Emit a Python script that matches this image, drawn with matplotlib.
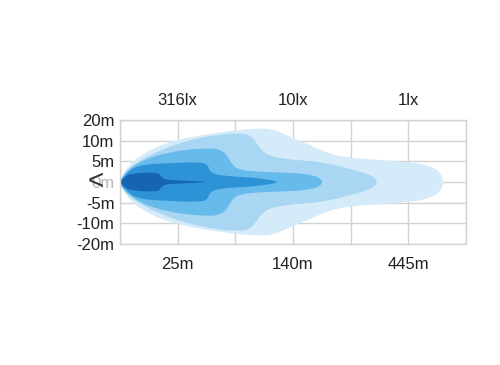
import numpy as np
import matplotlib
matplotlib.use("Agg")
import matplotlib.pyplot as plt
from matplotlib.path import Path
from matplotlib.patches import PathPatch

plt.rcParams['font.family'] = ['Liberation Sans', 'DejaVu Sans']

# grid is 6 columns x 6 rows; labels sit on the grid lines
y_labels = ["-20m", "-10m", "-5m", "0m", "5m", "10m", "20m"]
dist_labels = ["25m", "140m", "445m"]
lux_labels = ["316lx", "10lx", "1lx"]
label_cols = [1, 3, 5]

# upper half outline of each isolux zone (column units, row units); mirrored below
zone1_x = [0, 0.03, 0.14, 0.35, 0.78, 1.30, 1.91, 2.46, 2.69, 2.89, 3.07, 3.29, 3.64, 3.99, 4.51, 5.03, 5.38, 5.55, 5.62]
zone1_y = [0, 0.29, 0.78, 1.31, 1.89, 2.23, 2.48, 2.62, 2.52, 2.28, 2.04, 1.80, 1.36, 1.17, 1.07, 0.97, 0.78, 0.49, 0]
zone2_x = [0, 0.05, 0.26, 0.69, 1.21, 1.65, 2.08, 2.25, 2.36, 2.46, 2.64, 3.03, 3.52, 3.99, 4.25, 4.40, 4.47]
zone2_y = [0, 0.39, 0.92, 1.55, 2.04, 2.28, 2.38, 2.28, 1.94, 1.50, 1.21, 1.07, 0.97, 0.63, 0.44, 0.24, 0]
zone3_x = [0, 0.03, 0.31, 0.83, 1.47, 1.73, 1.86, 1.94, 2.08, 2.43, 3.03, 3.33, 3.47, 3.52]
zone3_y = [0, 0.29, 0.97, 1.46, 1.65, 1.60, 1.31, 0.83, 0.58, 0.49, 0.44, 0.34, 0.19, 0]
zone4_x = [0, 0.09, 0.31, 0.87, 1.40, 1.53, 1.56, 1.82, 2.17, 2.51, 2.79]
zone4_y = [0, 0.39, 0.83, 0.92, 0.97, 0.83, 0.44, 0.29, 0.24, 0.15, 0]
zone5_x = [0, 0.07, 0.19, 0.66, 0.71, 0.78, 1.21, 1.58]
zone5_y = [0, 0.24, 0.42, 0.48, 0.26, 0.10, 0.05, 0]

zones = [(zone1_x, zone1_y), (zone2_x, zone2_y), (zone3_x, zone3_y),
         (zone4_x, zone4_y), (zone5_x, zone5_y)]
colors = ['#d5ebf9', '#a9d6f2', '#66bbea', '#2d93d6', '#1565b0']


def smooth_path(xs, ys):
    # closed outline: top half left->right, bottom half right->left
    px = list(xs) + list(xs[-2::-1])
    py = list(ys) + [-v for v in ys[-2::-1]]
    pts = np.column_stack([px, py])
    verts = [pts[0]]
    codes = [Path.MOVETO]
    for i in range(1, len(pts) - 1):
        verts += [pts[i], (pts[i] + pts[i + 1]) / 2]
        codes += [Path.CURVE3, Path.CURVE3]
    verts.append(pts[-1])
    codes.append(Path.LINETO)
    return Path(verts, codes)


fig = plt.figure(figsize=(5, 3.65), dpi=100)
ax = fig.add_axes([0.24, 0.3315, 0.692, 0.3395])
ax.set_xlim(0, 6)
ax.set_ylim(-3, 3)

ax.set_xticks(range(7), minor=False)
ax.set_yticks(range(-3, 4))
ax.grid(True, color='#d2d2d2', linewidth=1)
ax.set_axisbelow(True)
for s in ax.spines.values():
    s.set_color('#d2d2d2')
    s.set_linewidth(1)

for (xs, ys), c in zip(zones, colors):
    ax.add_patch(PathPatch(smooth_path(xs, ys), facecolor=c, edgecolor='none', zorder=2))

ax.set_yticklabels(y_labels, fontsize=12, color='#222222')
ax.get_yticklabels()[3].set_color('#b5b5b5')
ax.tick_params(axis='y', length=0, pad=4)

ax.set_xticks(label_cols)
ax.set_xticks(range(7), minor=True)
ax.grid(True, which='minor', axis='x', color='#d2d2d2', linewidth=1)
ax.set_xticklabels(dist_labels, fontsize=12, color='#222222')
ax.tick_params(axis='x', which='both', length=0, pad=9)

top = ax.secondary_xaxis('top')
top.set_xticks(label_cols)
top.set_xticklabels(lux_labels, fontsize=12, color='#222222')
top.tick_params(length=0, pad=9)
for s in top.spines.values():
    s.set_visible(False)

# carousel arrow overlaying the "0m" label in the source image
fig.text(0.192, 0.5, "<", fontsize=20, color='#333333', ha='center', va='center')

fig.savefig("out.png", dpi=100)
